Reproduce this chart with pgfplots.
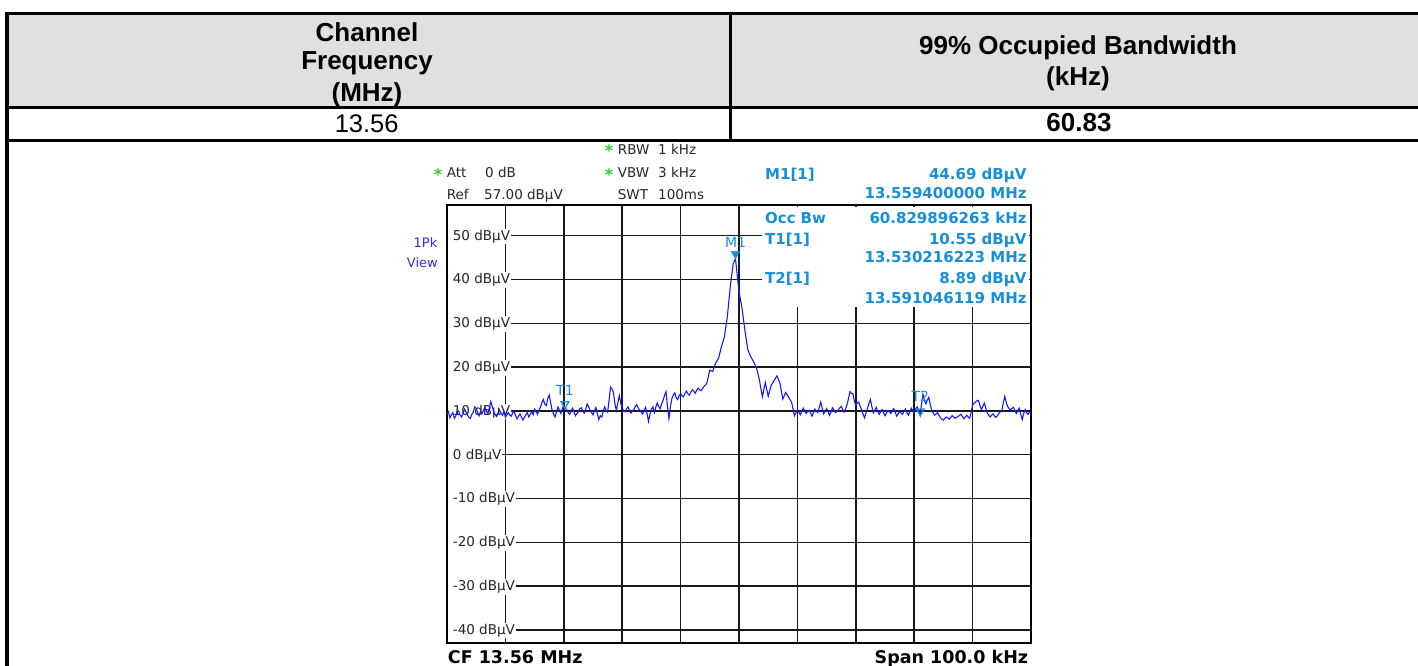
\documentclass[border=0pt]{standalone}
\usepackage{pgfplots}
\pgfplotsset{compat=1.18}
\usepackage{fontspec}
\setmainfont{Liberation Sans}
\newfontfamily\dv{DejaVu Sans}
\definecolor{hdrgrey}{RGB}{224,224,224}
\definecolor{tracecol}{RGB}{25,25,250}
\definecolor{mk}{RGB}{22,142,218}
\definecolor{pkblue}{RGB}{45,45,240}
\definecolor{stargreen}{RGB}{40,210,40}
\newcommand\fs[1]{\fontsize{#1}{#1}\selectfont}
\tikzset{ylab/.style={anchor=base west, fill=white, inner xsep=1pt, inner ysep=1.2pt, xshift=1pt, yshift=-4.5pt, font=\dv\fs{13.5}, text=black!85}}
\begin{document}
\begin{tikzpicture}
\useasboundingbox (0pt,0pt) rectangle (1418pt,666pt);
% ---- table background
\begin{scope}[shift={(0pt,666pt)},x=1pt,y=-1pt]
\fill[hdrgrey] (7,13.3) rectangle (1418,107.5);
\end{scope}
\begin{axis}[at={(447pt,23pt)}, anchor=south west, scale only axis,
  width=584pt, height=438pt,
  xmin=0, xmax=100, ymin=-43, ymax=57,
  xtick={10,20,...,90}, ytick={-40,-30,...,50},
  xticklabel=\empty, yticklabel=\empty, major tick length=0pt,
  grid=major, grid style={black!90, line width=1.5pt},
  axis line style={black, line width=2.6pt}, clip=false]
\node[ylab] at (axis cs:0,50) {\hspace*{3.7pt}50 dBµV};
\node[ylab] at (axis cs:0,40) {\hspace*{3.7pt}40 dBµV};
\node[ylab] at (axis cs:0,30) {\hspace*{3.7pt}30 dBµV};
\node[ylab] at (axis cs:0,20) {\hspace*{3.7pt}20 dBµV};
\node[ylab] at (axis cs:0,10) {\hspace*{3.7pt}10 dBµV};
\node[ylab] at (axis cs:0,0) {\hspace*{3.7pt}0 dBµV};
\node[ylab] at (axis cs:0,-10) {\hspace*{3.7pt}-10 dBµV};
\node[ylab] at (axis cs:0,-20) {\hspace*{3.7pt}-20 dBµV};
\node[ylab] at (axis cs:0,-30) {\hspace*{3.7pt}-30 dBµV};
\node[ylab] at (axis cs:0,-40) {\hspace*{3.7pt}-40 dBµV};
% trace (x: kHz above 13.51 MHz, y: dBuV)
\addplot[tracecol, line width=1.1pt] coordinates {
(0,9.2)(0.25,9.8)(0.5,8.4)(0.75,9.1)(1,9.6)(1.25,8.3)(1.5,8.8)(1.75,10.1)(2,9.9)(2.25,9.0)
(2.5,8.6)(2.75,9.5)(3,10.4)(3.25,9.7)(3.5,9.1)(3.75,8.5)(4,8.3)(4.25,9.2)(4.5,9.7)(4.75,10.9)
(5,10.6)(5.25,9.6)(5.5,8.9)(5.75,9.9)(6,9.4)(6.25,10.1)(6.5,10.8)(6.75,10.0)(7,9.3)(7.25,10.6)
(7.5,12.1)(7.75,11.0)(8,9.8)(8.25,9.1)(8.5,8.7)(8.75,9.6)(9,10.2)(9.25,9.4)(9.5,9.0)(9.75,9.9)
(10,8.5)(10.25,9.1)(10.5,9.6)(10.75,9.0)(11,8.8)(11.25,9.5)(11.5,9.9)(11.75,8.9)(12,8.2)(12.25,8.8)
(12.5,9.3)(12.75,8.6)(13,7.9)(13.25,8.5)(13.5,9.1)(13.75,9.6)(14,8.6)(14.25,9.2)(14.5,9.8)(14.75,9.1)
(15,10.4)(15.25,9.9)(15.5,9.2)(15.75,10.2)(16,10.8)(16.25,11.9)(16.5,12.6)(16.75,11.5)(17,11.2)(17.25,12.8)
(17.5,13.6)(17.75,11.9)(18,10.1)(18.25,9.3)(18.5,8.6)(18.75,9.8)(19,10.9)(19.25,10.2)(19.5,9.4)(19.75,10.5)
(20,11.4)(20.25,10.6)(20.5,10.3)(20.75,9.6)(21,9.2)(21.25,9.9)(21.5,10.6)(21.75,9.7)(22,8.9)(22.25,9.4)
(22.5,9.8)(22.75,10.5)(23,10.7)(23.25,9.9)(23.5,9.5)(23.75,10.4)(24,11.6)(24.25,10.9)(24.5,10.2)(24.75,9.6)
(25,9.1)(25.25,10.0)(25.5,10.8)(25.75,9.4)(26,8.0)(26.25,8.9)(26.5,8.6)(26.75,9.9)(27,10.9)(27.25,10.1)
(27.5,9.7)(27.75,12.4)(28,15.4)(28.25,15.0)(28.5,14.2)(28.75,11.6)(29,10.1)(29.25,11.8)(29.5,13.5)(29.75,11.7)
(30,10.6)(30.25,10.0)(30.5,9.8)(30.75,10.5)(31,10.9)(31.25,10.1)(31.5,9.5)(31.75,9.9)(32,10.3)(32.25,11.0)
(32.5,11.4)(32.75,10.6)(33,10.2)(33.25,9.7)(33.5,9.3)(33.75,10.1)(34,10.8)(34.25,9.4)(34.5,7.6)(34.75,9.2)
(35,10.4)(35.25,10.9)(35.5,9.6)(35.75,10.8)(36,11.8)(36.25,11.0)(36.5,10.5)(36.75,11.6)(37,12.4)(37.25,13.5)
(37.5,14.4)(37.75,11.0)(38,8.2)(38.25,10.9)(38.5,12.8)(38.75,13.6)(39,14.1)(39.25,13.0)(39.5,12.6)(39.75,13.5)
(40,13.9)(40.25,13.4)(40.5,13.2)(40.75,14.0)(41,14.5)(41.25,13.9)(41.5,13.6)(41.75,14.3)(42,14.8)(42.25,14.5)
(42.5,14.0)(42.75,14.7)(43,15.2)(43.25,14.8)(43.5,14.6)(43.75,15.1)(44,15.6)(44.25,15.9)(44.5,16.4)(44.75,17.8)
(45,19.3)(45.5,19.0)(46,20.9)(46.5,22.0)(47,24.7)(47.5,26.9)(48,31.5)(48.5,38.3)(49,43.6)(49.4,44.69)
(49.7,41.0)(50,37.2)(50.5,33.6)(51,28.5)(51.5,24.0)(52,22.4)(52.5,21.2)(53,19.8)(53.5,17.0)(54,13.2)
(54.5,16.5)(55,13.3)(55.5,15.8)(56,16.9)(56.5,18.0)(57,16.4)(57.5,12.7)(58,14.2)(58.5,13.1)(59,12.0)
(59.5,8.9)(59.75,9.6)(60,10.2)(60.25,9.7)(60.5,9.1)(60.75,9.8)(61,10.6)(61.25,10.0)(61.5,9.4)(61.75,9.9)
(62,10.1)(62.25,9.5)(62.5,8.8)(62.75,9.6)(63,10.4)(63.25,9.9)(63.5,9.6)(63.75,10.8)(64,12.0)(64.25,10.6)
(64.5,9.3)(64.75,9.9)(65,10.5)(65.25,9.8)(65.5,9.0)(65.75,9.7)(66,10.7)(66.25,10.2)(66.5,9.6)(66.75,9.9)
(67,10.2)(67.25,10.7)(67.5,11.0)(67.75,10.3)(68,9.7)(68.25,10.5)(68.5,11.4)(68.75,12.8)(69,14.4)(69.25,14.0)
(69.5,13.9)(69.75,12.3)(70,11.2)(70.25,11.8)(70.5,12.0)(70.75,11.0)(71,10.2)(71.25,9.2)(71.5,8.4)(71.75,9.5)
(72,10.6)(72.25,11.7)(72.5,12.6)(72.75,11.0)(73,9.5)(73.25,10.1)(73.5,10.8)(73.75,9.9)(74,9.2)(74.25,9.8)
(74.5,10.3)(74.75,9.6)(75,8.9)(75.25,9.5)(75.5,10.1)(75.75,9.8)(76,9.4)(76.25,10.0)(76.5,10.5)(76.75,9.7)
(77,8.8)(77.25,9.3)(77.5,9.9)(77.75,9.5)(78,9.2)(78.25,9.9)(78.5,10.4)(78.75,9.6)(79,9.0)(79.25,9.8)
(79.5,10.6)(79.75,10.1)(80,9.8)(80.25,10.4)(80.5,10.9)(80.75,10.0)(81,9.0)(81.25,11.5)(81.5,13.8)(81.75,12.4)
(82,11.6)(82.25,12.5)(82.5,13.1)(82.75,11.4)(83,10.2)(83.25,9.5)(83.5,9.0)(83.75,9.3)(84,9.6)(84.25,9.0)
(84.5,8.4)(84.75,8.1)(85,7.9)(85.25,8.3)(85.5,8.6)(85.75,8.4)(86,8.1)(86.25,8.5)(86.5,8.9)(86.75,8.6)
(87,8.3)(87.25,8.5)(87.5,8.7)(87.75,9.0)(88,9.2)(88.25,8.7)(88.5,8.2)(88.75,8.6)(89,9.0)(89.25,8.6)
(89.5,8.3)(89.75,9.6)(90,11.3)(90.25,11.8)(90.5,12.0)(90.75,12.3)(91,12.4)(91.25,11.2)(91.5,10.3)(91.75,11.0)
(92,11.8)(92.25,10.7)(92.5,9.6)(92.75,9.0)(93,8.6)(93.25,9.0)(93.5,9.3)(93.75,8.8)(94,8.5)(94.25,8.9)
(94.5,9.4)(94.75,9.8)(95,10.0)(95.25,11.8)(95.5,13.3)(95.75,12.0)(96,11.0)(96.25,10.5)(96.5,10.2)(96.75,10.6)
(97,10.8)(97.25,10.0)(97.5,9.4)(97.75,10.1)(98,10.6)(98.25,9.2)(98.5,8.0)(98.75,9.4)(99,10.3)(99.25,9.6)
(99.5,9.2)(99.75,9.8)(100,9.6)};
% markers
\addplot[only marks, mark=triangle*, mark size=5pt, mk, mark options={yshift=5pt, rotate=180, fill=mk, draw=mk}] coordinates {(49.4,44.69)};
\addplot[only marks, mark=triangle, mark size=4.5pt, mk, mark options={yshift=4.5pt, rotate=180, draw=mk, line width=1.2pt}] coordinates {(20.2,10.55)(81.05,8.89)};
\node[text=mk, font=\dv\fs{14}, yshift=16.6pt] at (axis cs:49.4,44.69) {M1};
\node[text=mk, font=\dv\fs{14}, yshift=18pt] at (axis cs:20.2,10.55) {T1};
\node[text=mk, font=\dv\fs{14}, yshift=19pt] at (axis cs:81.05,8.89) {T2};
\end{axis}
\begin{scope}[shift={(0pt,666pt)},x=1pt,y=-1pt]
% table lines
\draw[line width=3.3pt] (5.5,13.3) -- (1418,13.3);
\draw[line width=3.5pt] (7,11.7) -- (7,666);
\draw[line width=3pt] (7,107.5) -- (1418,107.5);
\draw[line width=2.6pt] (7,140.7) -- (1418,140.7);
\draw[line width=3pt] (730,13.3) -- (730,140.7);
% table text
\node[anchor=base, inner sep=0pt, font=\bfseries\fs{26}] at (367,41.7) {Channel};
\node[anchor=base, inner sep=0pt, font=\bfseries\fs{26}] at (367,69.3) {Frequency};
\node[anchor=base, inner sep=0pt, font=\bfseries\fs{26}] at (367,101.7) {(MHz)};
\node[anchor=base, inner sep=0pt, font=\bfseries\fs{26}] at (1078,54.3) {99\% Occupied Bandwidth};
\node[anchor=base, inner sep=0pt, font=\bfseries\fs{26}] at (1078,86) {(kHz)};
\node[anchor=base, inner sep=0pt, font=\fs{25.5}] at (366.7,132.7) {13.56};
\node[anchor=base, inner sep=0pt, font=\bfseries\fs{26}] at (1079,131.7) {60.83};
% analyser header
\node[inner sep=0pt, text=stargreen, font=\dv\bfseries\fs{16}] at (609,151) {*};
\node[inner sep=0pt, text=stargreen, font=\dv\bfseries\fs{16}] at (438,174.4) {*};
\node[inner sep=0pt, text=stargreen, font=\dv\bfseries\fs{16}] at (609,174.4) {*};
\begin{scope}[every node/.style={anchor=base west, inner sep=0pt, font=\dv\fs{13.5}, text=black!85}]
\node at (446.7,177.7) {Att};
\node at (485,177.7) {0 dB};
\node at (446.7,200) {Ref};
\node at (484,200) {57.00 dBµV};
\node at (617.7,155) {RBW};
\node at (658,155) {1 kHz};
\node at (617.7,177.7) {VBW};
\node at (658,177.7) {3 kHz};
\node at (617.7,200) {SWT};
\node at (658,200) {100ms};
\end{scope}
\node[anchor=base east, inner sep=0pt, text=pkblue, font=\dv\fs{13}] at (437.5,247.3) {1Pk};
\node[anchor=base east, inner sep=0pt, text=pkblue, font=\dv\fs{13}] at (438,267.3) {View};
% marker info box
\fill[white] (762,206.8) rectangle (1029.2,307.5);
\begin{scope}[every node/.style={inner sep=0pt, font=\dv\bfseries\fs{15}, text=mk}]
\node[anchor=base west] at (765,180) {M1[1]};
\node[anchor=base east] at (1026.7,180) {44.69 dBµV};
\node[anchor=base east] at (1026.7,199) {13.559400000 MHz};
\node[anchor=base west] at (765,223.3) {Occ\hspace{5pt}Bw};
\node[anchor=base east] at (1026.7,223.3) {60.829896263 kHz};
\node[anchor=base west] at (765,244.3) {T1[1]};
\node[anchor=base east] at (1026.7,244.3) {10.55 dBµV};
\node[anchor=base east] at (1026.7,262.7) {13.530216223 MHz};
\node[anchor=base west] at (765,283.3) {T2[1]};
\node[anchor=base east] at (1026.7,283.3) {8.89 dBµV};
\node[anchor=base east] at (1026.7,303.3) {13.591046119 MHz};
\end{scope}
\node[anchor=base west, inner sep=0pt, font=\dv\bfseries\fs{17.5}] at (447.7,664) {CF 13.56 MHz};
\node[anchor=base east, inner sep=0pt, font=\dv\bfseries\fs{17.5}] at (1028.3,664) {Span 100.0 kHz};
\end{scope}
\end{tikzpicture}
\end{document}
